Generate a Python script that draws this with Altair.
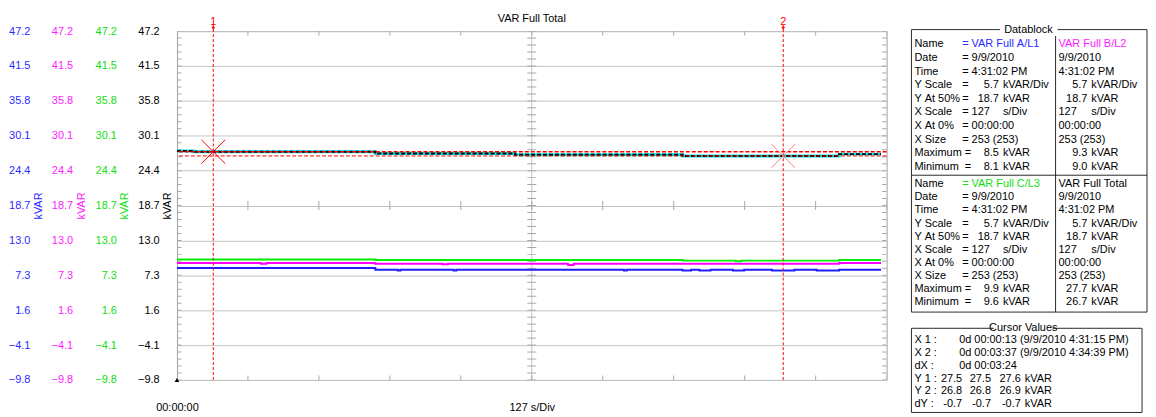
import altair as alt
import pandas as pd

FONT = "Liberation Sans"
FS = 11
NB = "\u00a0"

# ---------------- chart values ----------------
chart_title = "VAR Full Total"
y_title = "kVAR"
x_title = "127 s/Div"
x_tick_values = [0]
x_tick_labels = ["00:00:00"]
x_span = [0, 254]
x_mid = 127
y_tick_values = [47.2, 41.5, 35.8, 30.1, 24.4, 18.7, 13.0, 7.3, 1.6, -4.1, -9.8]
y_mid = 18.7
y_minor_step = 1.14
x_minor_step = 25.4

series_names = ["VAR Full A/L1", "VAR Full B/L2", "VAR Full C/L3", "VAR Full Total"]
line_colors = ["#1e1eff", "#ff00ff", "#00f000", "#000000"]
text_colors = ["#2a2aff", "#ff1aff", "#10e010", "#000000"]

# step series (seconds, kVAR)
t_a = [0, 71, 79, 80, 99, 100, 160, 161, 181, 184, 187, 191, 199, 203, 213, 221, 229, 237, 252]
v_a = [8.5, 8.2, 8.1, 8.2, 8.1, 8.2, 8.1, 8.2, 8.1, 8.2, 8.1, 8.2, 8.1, 8.2, 8.1, 8.2, 8.1, 8.2, 8.2]
t_b = [0, 30, 32, 71, 95, 97, 140, 142, 237, 252]
v_b = [9.3, 9.2, 9.3, 9.2, 9.1, 9.2, 9.0, 9.2, 9.3, 9.3]
t_c = [0, 71, 181, 200, 202, 237, 252]
v_c = [9.9, 9.8, 9.7, 9.6, 9.7, 9.8, 9.8]
t_tot = [0, 6, 71, 121, 181, 237, 252]
v_tot = [27.6, 27.5, 27.2, 27.0, 26.8, 27.1, 27.1]

cursor_ids = ["1", "2"]
cursor_t = [13, 217]
cursor_v = [27.5, 26.8]
cursor_colors = ["#ff0000", "#ff8080"]

# datablock / cursor texts
block_rows = ["Name", "Date", "Time", "Y Scale", "Y At 50%", "X Scale", "X At 0%", "X Size", "Maximum =", "Minimum  ="]
rec_date = "9/9/2010"
rec_time = "4:31:02 PM"
y_scale = "5.7"
y_scale_unit = "kVAR/Div"
y_at_50 = "18.7"
unit = "kVAR"
x_scale = "127"
x_scale_unit = "s/Div"
x_at_0 = "00:00:00"
x_size = "253 (253)"
maxima = ["8.5", "9.3", "9.9", "27.7"]
minima = ["8.1", "9.0", "9.6", "26.7"]
cursor_rows = ["X 1 :", "X 2 :", "dX :", "Y 1 :", "Y 2 :", "dY :"]
cursor_x_text = ["0d 00:00:13 (9/9/2010 4:31:15 PM)", "0d 00:03:37 (9/9/2010 4:34:39 PM)", "0d 00:03:24"]
cursor_y_vals = [["27.5", "27.5", "27.6"], ["26.8", "26.8", "26.9"], ["-0.7", "-0.7", "-0.7"]]
box_titles = ["Datablock", "Cursor Values"]

# ---------------- main plot ----------------
W, H = 714, 351
ymin, ymax = y_tick_values[-1], y_tick_values[0]
GRID = "#c4c4c4"
TICKC = "#a8a8a8"


def xs():
    return alt.Scale(domain=x_span, nice=False, zero=False)


def ys():
    return alt.Scale(domain=[ymin, ymax], nice=False, zero=False)


def y_axis(color, offset, grid=False):
    return alt.Axis(orient="left", offset=offset, values=y_tick_values, format=".1f",
                    domain=False, ticks=False, tickSize=0, labelPadding=0,
                    labelColor=color, labelFont=FONT, labelFontSize=FS,
                    labelFlush=False, labelOverlap=False,
                    grid=grid, gridColor=GRID, gridWidth=1,
                    title=y_title, titleColor=color, titleFont=FONT, titleFontSize=FS,
                    titleFontWeight="normal", titleAngle=270, titleAlign="center",
                    titleBaseline="middle", titleX=8.5, titleY=H / 2)


x_axis = alt.Axis(orient="bottom", values=x_tick_values, labelExpr="'" + x_tick_labels[0] + "'",
                  domain=False, ticks=False, tickSize=0, labelPadding=28, labelBaseline="middle",
                  labelAlign="center", labelFlush=False, labelFont=FONT, labelFontSize=FS,
                  labelColor="#000", grid=False,
                  title=x_title, titleFont=FONT, titleFontSize=FS, titleFontWeight="normal",
                  titleColor="#000", titleX=W / 2, titleY=28, titleBaseline="middle", titleAlign="center")

layers = []

# vertical centre grid line
layers.append(alt.Chart(pd.DataFrame({"t": [x_mid]})).mark_rule(color=GRID, strokeWidth=1)
              .encode(x=alt.X("t:Q", scale=xs(), axis=None)))

# minor ticks
minor_y = [round(ymin + k * y_minor_step, 3) for k in range(int(round((ymax - ymin) / y_minor_step)) + 1)]
minor_x = [round(k * x_minor_step, 3) for k in range(11)]
tick_h = pd.DataFrame([(x, y) for x in [x_span[0], x_mid, x_span[1]] for y in minor_y], columns=["t", "v"])
tick_v = pd.DataFrame([(x, y) for y in [ymax, y_mid, ymin] for x in minor_x], columns=["t", "v"])
layers.append(alt.Chart(tick_h).mark_tick(orient="horizontal", size=9, thickness=1, color=TICKC, clip=True, opacity=1)
              .encode(x=alt.X("t:Q", scale=xs(), axis=None), y=alt.Y("v:Q", scale=ys(), axis=None)))
layers.append(alt.Chart(tick_v).mark_tick(orient="vertical", size=9, thickness=1, color=TICKC, clip=True, opacity=1)
              .encode(x=alt.X("t:Q", scale=xs(), axis=None), y=alt.Y("v:Q", scale=ys(), axis=None)))


def series(t, v, color, yax, xax=None, width=2, dash=None):
    kw = dict(color=color, strokeWidth=width, interpolate="step-after")
    if dash is not None:
        kw["strokeDash"] = dash
    return alt.Chart(pd.DataFrame({"t": t, "v": v})).mark_line(**kw).encode(
        x=alt.X("t:Q", scale=xs(), axis=xax),
        y=alt.Y("v:Q", scale=ys(), axis=yax))


layers.append(series(t_a, v_a, line_colors[0], y_axis(text_colors[0], 148)))
layers.append(series(t_b, v_b, line_colors[1], y_axis(text_colors[1], 105)))
layers.append(series(t_c, v_c, line_colors[2], y_axis(text_colors[2], 61)))
layers.append(series(t_tot, v_tot, "#00e8e8", None, None, width=3))
layers.append(series(t_tot, v_tot, line_colors[3], y_axis(text_colors[3], 18, grid=True), x_axis,
                     width=2, dash=[4, 2]))

# cursors
cur = pd.DataFrame({"id": cursor_ids, "t": cursor_t, "v": cursor_v, "c": cursor_colors,
                    "w": [1.5, 1.0], "lo": [ymin] * 2, "hi": [ymax + 1.0] * 2,
                    "arrow": [ymax + 0.45] * 2})
layers.append(alt.Chart(cur).mark_rule(strokeDash=[4, 2], color="#ff0000")
              .encode(y=alt.Y("v:Q", scale=ys(), axis=None), strokeWidth=alt.StrokeWidth("w:Q", scale=None)))
layers.append(alt.Chart(cur).mark_rule(strokeDash=[3, 2], color="#ff0000", strokeWidth=1)
              .encode(x=alt.X("t:Q", scale=xs(), axis=None), y=alt.Y("lo:Q", scale=ys(), axis=None), y2="hi:Q"))
layers.append(alt.Chart(cur).mark_point(shape="M-1,-1L1,1M-1,1L1,-1", size=576, filled=False, strokeWidth=1, opacity=1)
              .encode(x=alt.X("t:Q", scale=xs(), axis=None), y=alt.Y("v:Q", scale=ys(), axis=None),
                      color=alt.Color("c:N", scale=None)))
layers.append(alt.Chart(cur).mark_text(baseline="alphabetic", align="center", color="#ff0000", font=FONT, fontSize=FS)
              .encode(x=alt.X("t:Q", scale=xs(), axis=None), y=alt.Y("hi:Q", scale=ys(), axis=None), text="id:N"))
layers.append(alt.Chart(cur).mark_point(shape="triangle-down", size=14, filled=True, color="#ff0000", opacity=1)
              .encode(x=alt.X("t:Q", scale=xs(), axis=None), y=alt.Y("arrow:Q", scale=ys(), axis=None)))
layers.append(alt.Chart(pd.DataFrame({"t": [x_span[0]], "v": [ymin]}))
              .mark_point(shape="triangle-up", size=22, filled=True, color="#000", opacity=1)
              .encode(x=alt.X("t:Q", scale=xs(), axis=None), y=alt.Y("v:Q", scale=ys(), axis=None)))

# chart title, centred over the plot
layers.append(alt.Chart(pd.DataFrame({"t": [x_mid], "v": [ymax], "s": [chart_title]}))
              .mark_text(baseline="alphabetic", align="center", dy=-9.5, color="#000", font=FONT, fontSize=FS)
              .encode(x=alt.X("t:Q", scale=xs(), axis=None), y=alt.Y("v:Q", scale=ys(), axis=None), text="s:N"))

# ---------------- side panel (datablock + cursor values) ----------------
PX0, PY0 = 739, 0          # panel origin relative to the plot's top-left corner
PW, PH = 240, 384
ANCH = {"lab": 3, "eq": 51, "n1": 88, "u1": 92, "v2": 148, "n2": 177, "u2": 181,
        "clab": 3, "cval": 48, "cn1": 51, "cn2": 80, "cn3": 110, "cu": 114}
RIGHT = {"n1", "n2", "cn1", "cn2", "cn3"}
BLOCK_Y = [(13.3, 13.7), (154.3, 13.1)]
CUR_Y = (311.3, 12.8)

items = []


def add(anchor, yy, text, color="#000"):
    items.append({"x": ANCH[anchor], "y": yy, "text": text.replace(" ", NB), "color": color,
                  "align": "right" if anchor in RIGHT else "left"})


for b, (s1, s2) in enumerate([(0, 1), (2, 3)]):
    y0, st = BLOCK_Y[b]
    rows = [y0 + i * st for i in range(len(block_rows))]
    for i, lab in enumerate(block_rows):
        add("lab", rows[i], lab)
    add("eq", rows[0], "= " + series_names[s1], text_colors[s1])
    add("v2", rows[0], series_names[s2], text_colors[s2])
    add("eq", rows[1], "= " + rec_date)
    add("v2", rows[1], rec_date)
    add("eq", rows[2], "= " + rec_time)
    add("v2", rows[2], rec_time)
    add("eq", rows[3], "=")
    add("n1", rows[3], y_scale)
    add("u1", rows[3], y_scale_unit)
    add("n2", rows[3], y_scale)
    add("u2", rows[3], y_scale_unit)
    add("eq", rows[4], "=")
    add("n1", rows[4], y_at_50)
    add("u1", rows[4], unit)
    add("n2", rows[4], y_at_50)
    add("u2", rows[4], unit)
    add("eq", rows[5], "= " + x_scale)
    add("u1", rows[5], x_scale_unit)
    add("v2", rows[5], x_scale)
    add("u2", rows[5], x_scale_unit)
    add("eq", rows[6], "= " + x_at_0)
    add("v2", rows[6], x_at_0)
    add("eq", rows[7], "= " + x_size)
    add("v2", rows[7], x_size)
    add("n1", rows[8], maxima[s1])
    add("u1", rows[8], unit)
    add("n2", rows[8], maxima[s2])
    add("u2", rows[8], unit)
    add("n1", rows[9], minima[s1])
    add("u1", rows[9], unit)
    add("n2", rows[9], minima[s2])
    add("u2", rows[9], unit)

crow = [CUR_Y[0] + i * CUR_Y[1] for i in range(len(cursor_rows))]
for i, lab in enumerate(cursor_rows):
    add("clab", crow[i], lab)
for i, txt in enumerate(cursor_x_text):
    add("cval", crow[i], txt)
for i, vals in enumerate(cursor_y_vals):
    add("cn1", crow[3 + i], vals[0])
    add("cn2", crow[3 + i], vals[1])
    add("cn3", crow[3 + i], vals[2])
    add("cu", crow[3 + i], unit)

txt_df = pd.DataFrame(items)
titles_df = pd.DataFrame({"x": [117.7, 112.5], "y": [-1.5, 299], "text": box_titles})
title_bg = pd.DataFrame({"x": [89, 83], "x2": [147, 142], "y": [-8, 292], "y2": [5, 306]})
boxes = pd.DataFrame({"x": [0, 0], "x2": [237, 232], "y": [-1.5, 299], "y2": [282.7, 383.7]})
lines = pd.DataFrame({"x": [0, 145], "x2": [237, 145], "y": [145, -1.5], "y2": [145, 282.7]})
BORDER = "#2a2a2a"


def pos(ch, with2=True):
    enc = dict(x=alt.X("x:Q", scale=alt.Scale(domain=[0, PW], range=[PX0, PX0 + PW], nice=False, zero=False), axis=None),
               y=alt.Y("y:Q", scale=alt.Scale(domain=[0, PH], range=[PY0, PY0 + PH], nice=False, zero=False), axis=None))
    if with2:
        enc["x2"] = "x2:Q"
        enc["y2"] = "y2:Q"
    return ch.encode(**enc)


layers += [
    pos(alt.Chart(boxes).mark_rect(fillOpacity=0, stroke=BORDER, strokeWidth=1)),
    pos(alt.Chart(lines).mark_rule(color=BORDER, strokeWidth=1)),
    pos(alt.Chart(title_bg).mark_rect(fill="white", strokeOpacity=0)),
    pos(alt.Chart(titles_df).mark_text(align="center", baseline="middle", font=FONT, fontSize=FS, color="#000"),
        False).encode(text="text:N"),
]
for al in ["left", "right"]:
    layers.append(
        pos(alt.Chart(txt_df).transform_filter(f"datum.align == '{al}'")
            .mark_text(align=al, baseline="middle", font=FONT, fontSize=FS), False)
        .encode(text="text:N", color=alt.Color("color:N", scale=None)))

chart = alt.layer(*layers).properties(
    width=W, height=H,
    padding={"left": 0, "top": 3, "right": 0, "bottom": 0},
    background="white",
).resolve_scale(x="independent", y="independent").resolve_axis(
    x="independent", y="independent"
).configure(font=FONT).configure_view(stroke="#a0a0a0", strokeWidth=1)

chart.save("out.html", embed_options={"renderer": "svg", "actions": False})
